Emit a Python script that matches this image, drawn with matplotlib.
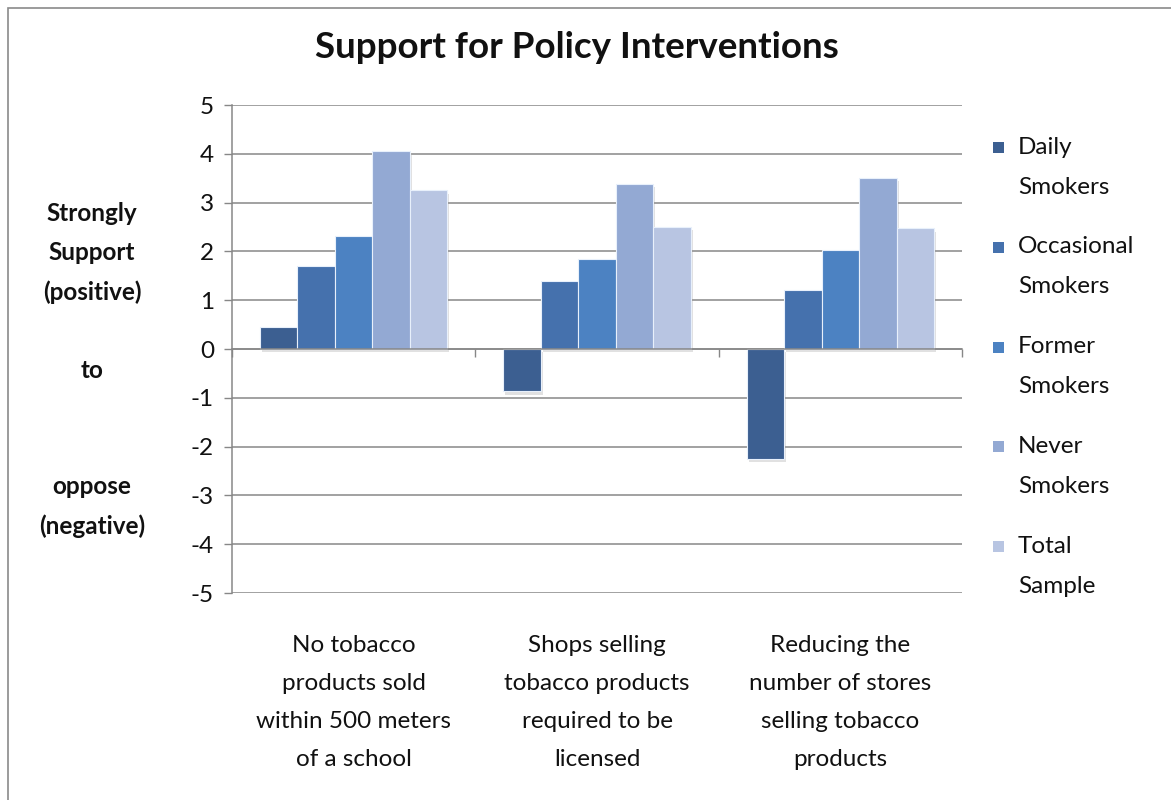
import matplotlib
matplotlib.use("Agg")
import matplotlib.pyplot as plt
import numpy as np
from matplotlib.patches import Rectangle
from matplotlib import patheffects as pe

categories = ["No tobacco\nproducts sold\nwithin 500 meters\nof a school",
              "Shops selling\ntobacco products\nrequired to be\nlicensed",
              "Reducing the\nnumber of stores\nselling tobacco\nproducts"]
series = ["Daily\nSmokers", "Occasional\nSmokers", "Former\nSmokers", "Never\nSmokers", "Total\nSample"]
daily = [0.45, -0.87, -2.25]
occasional = [1.70, 1.40, 1.21]
former = [2.31, 1.85, 2.02]
never = [4.05, 3.39, 3.51]
total = [3.25, 2.51, 2.47]
values = [daily, occasional, former, never, total]
colors = ["#3C5F91", "#4571AD", "#4C82C2", "#93A9D3", "#B8C5E2"]
yticks = list(range(-5, 6))
ylabel_text = "Strongly\nSupport\n(positive)\n\nto\n\n\noppose\n(negative)"
title = "Support for Policy Interventions"

FONT = "Lato"
plt.rcParams['font.family'] = [FONT, 'DejaVu Sans']
FS = 17.5
TXT = "#111111"

W, H = 1171, 800
fig = plt.figure(figsize=(W/100, H/100), dpi=100)
fig.patch.set_facecolor("white")

# chart area border (screenshot)
fig.add_artist(Rectangle((8/W, -0.05), 1.2, 1 - 8/H + 0.05, transform=fig.transFigure,
                         fill=False, edgecolor="#8a8a8a", lw=1.2))

ax = fig.add_axes([232/W, 1 - 593/H, (962-232)/W, (593-105)/H])
ax.set_xlim(-0.5, 2.5)
ax.set_ylim(-5, 5)

x = np.arange(len(categories))
bw = 0.154
n = len(series)
for i, (vals, c) in enumerate(zip(values, colors)):
    pos = x + (i - (n-1)/2) * bw
    ax.bar(pos, vals, width=bw, color=c, edgecolor="#e8f0fb", linewidth=0.8, zorder=3,
           path_effects=[pe.SimplePatchShadow(offset=(1.5, -2.5), shadow_rgbFace="#888888", alpha=0.25),
                         pe.Normal()])

for yv in yticks:
    ax.axhline(yv, color="#878787", lw=1.1, zorder=1)

ax.set_yticks(yticks)
ax.set_yticklabels([str(t) for t in yticks], fontsize=FS, family=FONT, color=TXT)
ax.tick_params(axis='y', length=6, width=1, color="#878787", pad=7)
ax.spines['left'].set_color("#878787")
ax.spines['left'].set_linewidth(1.1)
ax.spines['top'].set_visible(False)
ax.spines['right'].set_visible(False)
ax.spines['bottom'].set_position(('data', 0))
ax.spines['bottom'].set_color("#878787")
ax.spines['bottom'].set_linewidth(1.1)
ax.spines['bottom'].set_zorder(4)
ax.set_xticks([-0.5, 0.5, 1.5, 2.5])
ax.set_xticklabels([])
ax.tick_params(axis='x', length=6, width=1, color="#878787", direction='out')

for xi, lab in zip(x, categories):
    ax.text(xi, -0.087, lab, transform=ax.get_xaxis_transform(), ha='center', va='top',
            fontsize=FS, linespacing=1.99, family=FONT, color=TXT)

fig.text(577/W, 1 - 47/H, title, ha='center', va='center', fontsize=26.5, fontweight='bold',
         family=FONT, color=TXT)
fig.text(92/W, 1 - 370/H, ylabel_text, ha='center', va='center', fontsize=FS, fontweight='bold',
         family=FONT, linespacing=1.84, multialignment='center', color=TXT)

# legend
for i, (name, c) in enumerate(zip(series, colors)):
    ytop = 147 + i * 99.8
    fig.add_artist(Rectangle((993/W, 1 - (ytop + 6)/H), 11/W, 11/H, transform=fig.transFigure,
                             facecolor=c, edgecolor='none'))
    for j, ln in enumerate(name.split("\n")):
        fig.text(1018/W, 1 - (ytop + 40*j)/H, ln, ha='left', va='center', fontsize=FS,
                 family=FONT, color=TXT)

fig.savefig("out.png", dpi=100, facecolor="white")
